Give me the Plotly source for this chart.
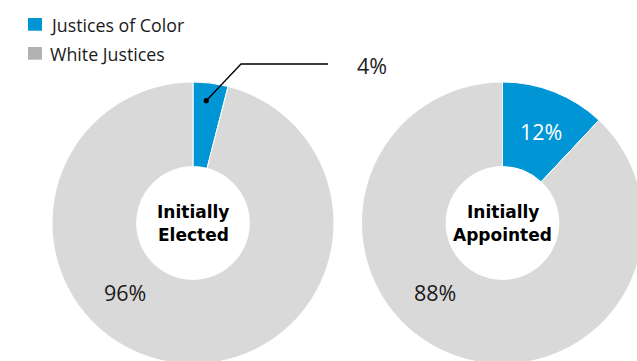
import math
import plotly.graph_objects as go

# Share of justices by race, split by how they first reached the bench
groups = [["Initially", "Elected"], ["Initially", "Appointed"]]
categories = ["Justices of Color", "White Justices"]
color_pct = [4, 12]
white_pct = [96, 88]

BLUE = "#0096D6"
PIE_GRAY = "#D9D9D9"
KEY_GRAY = "#B2B2B2"
INK = "#1A1A1A"

# Canvas is a touch larger than the window so the rings bleed off the edges
W, H = 645, 366
centers = [(193, 223), (502.5, 223)]  # pixel centres of the two rings
R = 141
HOLE = 0.40
MID = R * (1 + HOLE) / 2  # radius halfway through the ring


def px(x):
    return x / W


def py(y):
    return 1 - y / H


def note(x, y, text, font, xanchor="center"):
    fig.add_annotation(
        x=px(x), y=py(y), xref="paper", yref="paper",
        xanchor=xanchor, yanchor="middle",
        text=text, showarrow=False, font=font, align="center",
    )


pct_font = dict(family="Open Sans", size=21.5, color=INK)
title_font = dict(family="DejaVu Sans", size=17, color="#000000")

fig = go.Figure()

for i, g in enumerate(groups):
    cx, cy = centers[i]
    fig.add_trace(go.Pie(
        labels=categories,
        values=[color_pct[i], white_pct[i]],
        sort=False,
        direction="clockwise",
        rotation=0,
        hole=HOLE,
        marker=dict(colors=[BLUE, PIE_GRAY], line=dict(color="white", width=1)),
        textinfo="none",
        hoverinfo="label+percent",
        showlegend=False,
        domain=dict(x=[px(cx - R), px(cx + R)], y=[py(cy + R), py(cy - R)]),
    ))
    # Ring title in the hole, two lines
    note(cx, cy - 11, f"<b>{g[0]}</b>", title_font)
    note(cx, cy + 12, f"<b>{g[1]}</b>", title_font)
    # White share, placed on the lower-left of the ring
    ang = math.radians(225)
    note(cx + MID * math.sin(ang) + 2, cy - MID * math.cos(ang),
         f"{white_pct[i]}%", pct_font)

# Appointed: label sits inside the blue slice, on its bisector
cx, cy = centers[1]
ang = math.radians(color_pct[1] / 100 * 360 / 2)
note(cx + MID * math.sin(ang) + 2, cy - MID * math.cos(ang),
     f"{color_pct[1]}%", dict(family="Open Sans", size=21.5, color="white"))

# Elected: slice too thin, so use a leader line out to the label
cx, cy = centers[0]
ang = math.radians(color_pct[0] / 100 * 360 / 2 - 1)
dr = 123
dx, dy = cx + dr * math.sin(ang), cy - dr * math.cos(ang)
elbow = (241, 64)
end_x = 328
fig.add_shape(
    type="path", xref="paper", yref="paper",
    path=f"M {px(dx)} {py(dy)} L {px(elbow[0])} {py(elbow[1])} L {px(end_x)} {py(elbow[1])}",
    line=dict(color="#000000", width=1.3),
)
fig.add_shape(
    type="circle", xref="paper", yref="paper",
    x0=px(dx - 2.6), x1=px(dx + 2.6), y0=py(dy + 2.6), y1=py(dy - 2.6),
    fillcolor="#000000", line=dict(width=0),
)
note(355, 66, f"{color_pct[0]}%", pct_font, xanchor="left")

# Key
key_colors = [BLUE, KEY_GRAY]
for j, (name, col) in enumerate(zip(categories, key_colors)):
    top = 18 + j * 29
    fig.add_shape(
        type="rect", xref="paper", yref="paper",
        x0=px(28), x1=px(42), y0=py(top + 12.7), y1=py(top),
        fillcolor=col, line=dict(width=0),
    )
    note(47.5, top + 7, name,
         dict(family="Open Sans", size=17.8, color=INK), xanchor="left")

fig.update_layout(
    width=W, height=H,
    margin=dict(l=0, r=0, t=0, b=0),
    paper_bgcolor="white",
    plot_bgcolor="white",
)

fig.write_html("out.html")
